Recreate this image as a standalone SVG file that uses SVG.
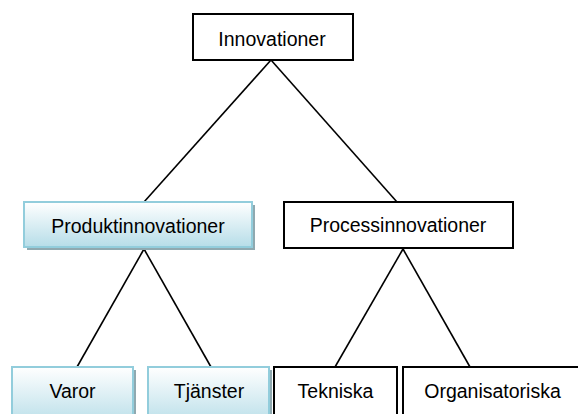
<svg xmlns="http://www.w3.org/2000/svg" width="578" height="414" viewBox="0 0 578 414">
<defs>
<linearGradient id="blueGrad" x1="0" y1="0" x2="0" y2="1">
<stop offset="0" stop-color="#ffffff"/>
<stop offset="1" stop-color="#b6dde8"/>
</linearGradient>
</defs>
<style>
.plain{fill:#ffffff;stroke:#000000;stroke-width:2}
.blue{fill:url(#blueGrad);stroke:#92cddc;stroke-width:2}
.shadow{fill:#8fa9b0}
.lbl{font-family:"Liberation Sans",Arial,sans-serif;font-size:19.5px;fill:#000000;text-anchor:middle}
.conn{stroke:#000000;stroke-width:1.6;fill:none}
</style>
<rect x="0" y="0" width="578" height="414" fill="#ffffff"/>
<g id="connectors">
<line class="conn" x1="271" y1="60" x2="144" y2="202"/>
<line class="conn" x1="271" y1="60" x2="397" y2="202"/>
<line class="conn" x1="144" y1="249" x2="77" y2="367"/>
<line class="conn" x1="144" y1="249" x2="211" y2="367"/>
<line class="conn" x1="403" y1="249" x2="335" y2="367"/>
<line class="conn" x1="403" y1="249" x2="470" y2="367"/>
</g>
<g id="innovationer">
<rect class="plain" x="193" y="14" width="160" height="46"/>
<text class="lbl" x="272" y="46">Innovationer</text>
</g>
<g id="produktinnovationer">
<rect class="shadow" x="27" y="205" width="228" height="45"/>
<rect class="blue" x="24" y="202" width="228" height="45"/>
<text class="lbl" x="138" y="233">Produktinnovationer</text>
</g>
<g id="processinnovationer">
<rect class="plain" x="284" y="202" width="229" height="46"/>
<text class="lbl" x="398" y="232">Processinnovationer</text>
</g>
<g id="varor">
<rect class="shadow" x="15" y="370" width="121" height="60"/>
<rect class="blue" x="12" y="367" width="121" height="60"/>
<text class="lbl" x="72.5" y="398">Varor</text>
</g>
<g id="tjanster">
<rect class="shadow" x="151" y="370" width="121" height="60"/>
<rect class="blue" x="148" y="367" width="121" height="60"/>
<text class="lbl" x="209" y="398">Tjänster</text>
</g>
<g id="tekniska">
<rect class="plain" x="274" y="367" width="123" height="60"/>
<text class="lbl" x="335.5" y="398">Tekniska</text>
</g>
<g id="organisatoriska">
<rect class="plain" x="403" y="367" width="180" height="60"/>
<text class="lbl" x="492.5" y="398">Organisatoriska</text>
</g>
</svg>
